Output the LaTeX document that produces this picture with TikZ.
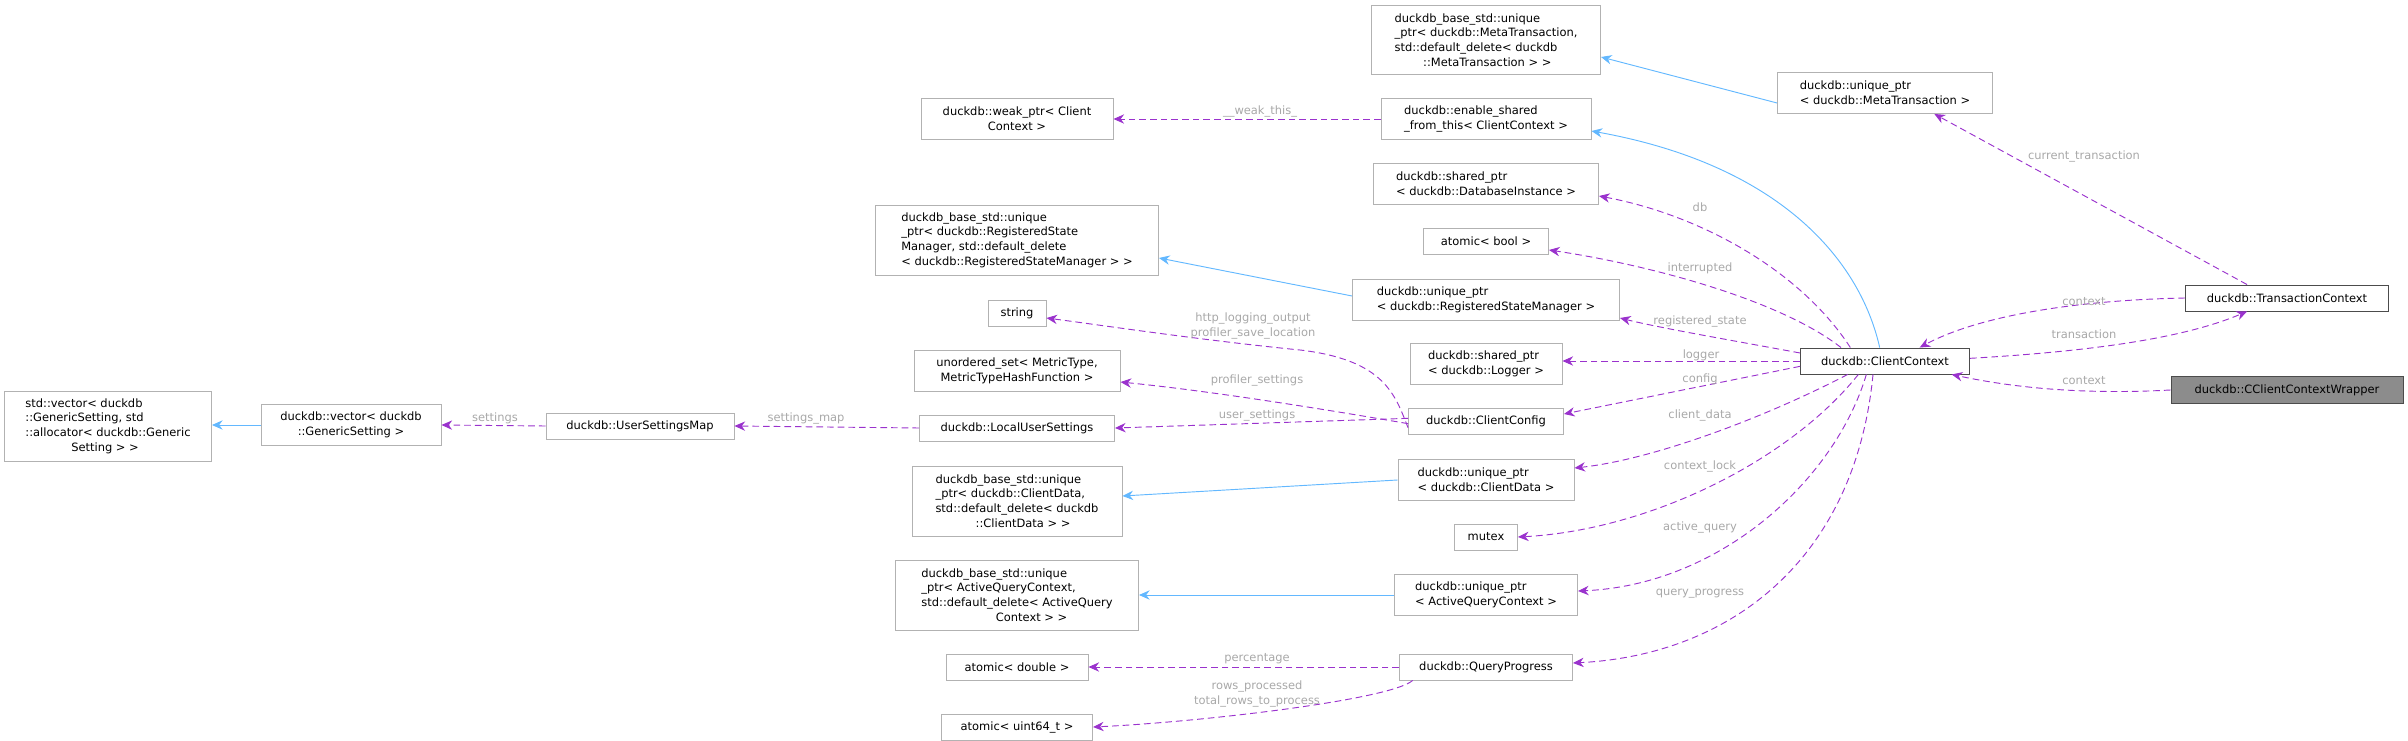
\documentclass[tikz,border=0pt]{standalone}
\usepackage{fontspec}
\setmainfont{DejaVu Sans}
\usetikzlibrary{arrows.meta}
\definecolor{pur}{HTML}{9A32CD}
\definecolor{blu}{HTML}{63B8FF}
\definecolor{lab}{HTML}{A8A8A8}
\begin{document}
\begin{tikzpicture}[x=0.75pt,y=-0.75pt,
 box/.style={draw=black!30,fill=white,line width=0.7pt,font=\fontsize{8.6}{11}\selectfont,align=center,inner sep=0pt,anchor=center},
 boxl/.style={box,align=left},
 main/.style={box,draw=black!70},
 inh/.style={draw=blu,line width=0.7pt,-{Stealth[length=8pt,width=7pt]}},
 mem/.style={draw=pur,dashed,dash pattern=on 5pt off 3pt,line width=0.7pt,-{Stealth[length=8pt,width=7pt]}},
 lbl/.style={font=\fontsize{8.6}{11}\selectfont,text=lab,align=center,inner sep=0pt}]
\useasboundingbox (0,0) rectangle (2408,741);
\tikzset{w/.style={minimum width=#1*0.75pt}, h/.style={minimum height=#1*0.75pt}}
\node[boxl,w=229,h=69] (metab) at (1486,40) {duckdb\_base\_std::unique\\\_ptr< duckdb::MetaTransaction,\\ std::default\_delete< duckdb\\\hspace*{2.5em}::MetaTransaction > >};
\node[boxl,w=215,h=41] (metau) at (1885,93) {duckdb::unique\_ptr\\< duckdb::MetaTransaction >};
\node[box,w=192,h=41] (weak) at (1017,119) {duckdb::weak\_ptr< Client\\Context >};
\node[boxl,w=210,h=41] (ens) at (1486,119) {duckdb::enable\_shared\\\_from\_this< ClientContext >};
\node[boxl,w=225,h=41] (dbi) at (1486,184) {duckdb::shared\_ptr\\< duckdb::DatabaseInstance >};
\node[box,w=125,h=26] (abool) at (1486,241) {atomic< bool >};
\node[boxl,w=283,h=70] (regb) at (1017,240) {duckdb\_base\_std::unique\\\_ptr< duckdb::RegisteredState\\Manager, std::default\_delete\\< duckdb::RegisteredStateManager > >};
\node[boxl,w=267,h=41] (regu) at (1486,300) {duckdb::unique\_ptr\\< duckdb::RegisteredStateManager >};
\node[box,w=58,h=26] (str) at (1017,313) {string};
\node[box,w=206,h=41] (uset) at (1017,371) {unordered\_set< MetricType,\\MetricTypeHashFunction >};
\node[boxl,w=152,h=41] (logg) at (1486,364) {duckdb::shared\_ptr\\< duckdb::Logger >};
\node[box,w=155,h=26] (conf) at (1486,421) {duckdb::ClientConfig};
\node[main,w=169,h=26] (cc) at (1885,361) {duckdb::ClientContext};
\node[main,w=203,h=26] (tc) at (2287,298) {duckdb::TransactionContext};
\node[box,draw=black!70,fill=black!45,w=232,h=27] (wrap) at (2287,390) {duckdb::CClientContextWrapper};
\node[boxl,w=207,h=70] (stdv) at (108,426) {std::vector< duckdb\\::GenericSetting, std\\::allocator< duckdb::Generic\\\hspace*{4em}Setting > >};
\node[box,w=180,h=41] (vgs) at (351,425) {duckdb::vector< duckdb\\::GenericSetting >};
\node[box,w=188,h=26] (usm) at (640,426) {duckdb::UserSettingsMap};
\node[box,w=195,h=26] (lus) at (1017,428) {duckdb::LocalUserSettings};
\node[boxl,w=210,h=70] (cdb) at (1017,501) {duckdb\_base\_std::unique\\\_ptr< duckdb::ClientData,\\ std::default\_delete< duckdb\\\hspace*{3.5em}::ClientData > >};
\node[boxl,w=176,h=41] (cdu) at (1486,480) {duckdb::unique\_ptr\\< duckdb::ClientData >};
\node[box,w=63,h=26] (mtx) at (1486,537) {mutex};
\node[boxl,w=243,h=70] (aqb) at (1017,595) {duckdb\_base\_std::unique\\\_ptr< ActiveQueryContext,\\ std::default\_delete< ActiveQuery\\\hspace*{6.5em}Context > >};
\node[boxl,w=183,h=41] (aqu) at (1486,595) {duckdb::unique\_ptr\\< ActiveQueryContext >};
\node[box,w=173,h=26] (qp) at (1486,667) {duckdb::QueryProgress};
\node[box,w=142,h=26] (adbl) at (1017,667) {atomic< double >};
\node[box,w=151,h=26] (au64) at (1017,727) {atomic< uint64\_t >};
% inheritance
\draw[inh] ([yshift=-7.5pt]metau.west) -- (metab.east |- 0,57);
\draw[inh] ([xshift=-4pt]cc.north) .. controls (1860,260) and (1780,165) .. (ens.east |- 0,131);
\draw[inh] ([yshift=3pt]regu.west) -- (regb.east |- 0,258);
\draw[inh] (cdu.west) -- (cdb.east |- 0,496);
\draw[inh] (aqu.west) -- (aqb.east |- 0,595);
\draw[inh] (vgs.west) -- (stdv.east |- 0,425);
% members
\draw[mem] (ens.west) -- (weak.east);
\node[lbl] at (1260,111) {\_\_weak\_this\_};
\draw[mem] ([xshift=-30pt]tc.north) -- ([xshift=37pt]metau.south);
\node[lbl] at (2084,156) {current\_transaction};
\draw[mem] ([xshift=-26pt]cc.north) .. controls (1800,270) and (1700,215) .. (dbi.east |- 0,196);
\node[lbl] at (1700,207) {db};
\draw[mem] ([xshift=-33pt]cc.north) .. controls (1780,300) and (1650,265) .. (abool.east |- 0,250);
\node[lbl] at (1700,268) {interrupted};
\draw[mem] ([yshift=6pt]cc.west) .. controls (1730,340) and (1660,328) .. (regu.east |- 0,318);
\node[lbl] at (1700,321) {registered\_state};
\draw[mem] (cc.west) -- (logg.east |- 0,361);
\node[lbl] at (1701,355) {logger};
\draw[mem] ([yshift=-4pt]cc.west) -- (conf.east |- 0,414);
\node[lbl] at (1700,379) {config};
\draw[mem] ([xshift=-28pt]cc.south) .. controls (1760,420) and (1650,460) .. (cdu.east |- 0,468);
\node[lbl] at (1700,415) {client\_data};
\draw[mem] ([xshift=-20pt]cc.south) .. controls (1790,460) and (1650,530) .. (mtx.east);
\node[lbl] at (1700,466) {context\_lock};
\draw[mem] ([xshift=-14pt]cc.south) .. controls (1835,480) and (1720,585) .. (aqu.east |- 0,591);
\node[lbl] at (1700,527) {active\_query};
\draw[mem] ([xshift=-9pt]cc.south) .. controls (1855,560) and (1730,655) .. (qp.east |- 0,663);
\node[lbl] at (1700,594) {query\_progress};
\draw[mem] (tc.west) .. controls (2080,300) and (1980,315) .. ([xshift=26pt]cc.north);
\node[lbl] at (2084,302) {context};
\draw[mem] ([yshift=2pt]cc.east) .. controls (2080,352) and (2180,340) .. ([xshift=-30pt]tc.south);
\node[lbl] at (2084,334) {transaction};
\draw[mem] (wrap.west) .. controls (2080,395) and (2010,387) .. ([xshift=50pt]cc.south);
\node[lbl] at (2084,381) {context};
\draw[mem] ([yshift=-5pt]conf.west) .. controls (1395,395) and (1385,360) .. (1300,350) .. controls (1200,340) and (1100,325) .. (str.east |- 0,318);
\node[lbl] at (1253,326) {http\_logging\_output\\profiler\_save\_location};
\draw[mem] ([yshift=-2pt]conf.west) .. controls (1300,405) and (1200,390) .. (uset.east |- 0,382);
\node[lbl] at (1257,380) {profiler\_settings};
\draw[mem] ([yshift=2pt]conf.west) -- (lus.east);
\node[lbl] at (1257,415) {user\_settings};
\draw[mem] (lus.west) -- (usm.east);
\node[lbl] at (806,418) {settings\_map};
\draw[mem] (usm.west) -- (vgs.east);
\node[lbl] at (495,418) {settings};
\draw[mem] (qp.west) -- (adbl.east);
\node[lbl] at (1257,659) {percentage};
\draw[mem] ([xshift=-55pt]qp.south) .. controls (1390,700) and (1200,722) .. (au64.east);
\node[lbl] at (1257,694) {rows\_processed\\total\_rows\_to\_process};
\end{tikzpicture}
\end{document}
